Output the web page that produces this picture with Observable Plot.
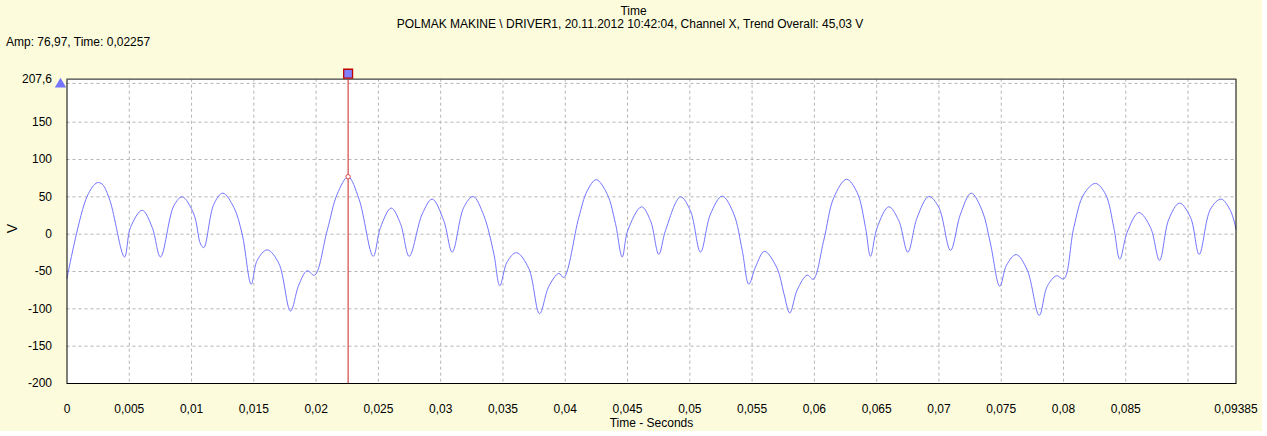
<!DOCTYPE html>
<html>
<head>
<meta charset="utf-8">
<script src="https://cdn.jsdelivr.net/npm/d3@7"></script>
<script src="https://cdn.jsdelivr.net/npm/@observablehq/plot@0.6"></script>
<style>
  html, body { margin: 0; padding: 0; background: #FFFFFF; }
  body { width: 1267px; height: 436px; overflow: hidden; font-family: Arial, "Liberation Sans", sans-serif; font-size: 12px; color: #000; }
  #panel { position: relative; width: 1262px; height: 431px; background: #FCFCDC; }
  #head { position: relative; height: 50px; }
  #head div { position: absolute; line-height: 14px; white-space: nowrap; }
  #chart { width: 1267px; }
  #chart svg { display: block; overflow: visible; }
</style>
</head>
<body>
<div id="panel">
<div id="head">
  <div id="title" style="top:4px;left:0;width:1267px;text-align:center;"></div>
  <div id="subtitle" style="top:17px;left:0;width:1260px;text-align:center;"></div>
  <div id="readout" style="top:35px;left:6px;"></div>
</div>
<div id="chart"></div>
</div>
<script>
// ---- data ----
const times = [0, 0.001622, 0.002425, 0.002826, 0.003436, 0.004616, 0.005098, 0.006037, 0.006840, 0.007506,
  0.008574, 0.009248, 0.010180, 0.010718, 0.010983, 0.011785, 0.012508, 0.013391, 0.014065, 0.014788,
  0.015270, 0.016073, 0.017004, 0.017943, 0.018609, 0.019284, 0.019870, 0.020889, 0.021692, 0.02257,
  0.023443, 0.024582, 0.025169, 0.026028, 0.026774, 0.027473, 0.028517, 0.029319, 0.030250, 0.030925,
  0.031856, 0.032611, 0.033462, 0.034265, 0.034746, 0.035340, 0.036087, 0.037075, 0.037934, 0.038680,
  0.039483, 0.039884, 0.041089, 0.041763, 0.042486, 0.043369, 0.044035, 0.044573, 0.045022, 0.046122,
  0.046845, 0.047511, 0.048049, 0.049253, 0.050056, 0.050859, 0.051662, 0.052601, 0.053532, 0.054207,
  0.054737, 0.055275, 0.055997, 0.057017, 0.057547, 0.058028, 0.058622, 0.059425, 0.059907, 0.060758,
  0.061561, 0.062580, 0.063439, 0.064106, 0.064507, 0.065045, 0.065976, 0.066779, 0.067501, 0.068256,
  0.069187, 0.069990, 0.070930, 0.071733, 0.072592, 0.073475, 0.074141, 0.074888, 0.075426, 0.076204,
  0.077088, 0.078051, 0.078693, 0.079440, 0.080026, 0.080829, 0.081631, 0.082571, 0.083373, 0.084040,
  0.084522, 0.085115, 0.086047, 0.086986, 0.087709, 0.088455, 0.089315, 0.090198, 0.090896, 0.091803,
  0.092662, 0.093409, 0.09385];
const amps = [-59, 51, 69, 67, 45.6, -30.5, 9, 32, 9, -30.5,
  38, 50, 27, -13, -18, 40, 55, 36, 0, -67,
  -35, -21, -39, -103, -68, -49, -55, 5, 53.6, 76.97,
  47, -29.6, 9, 35, 14, -29.6, 27, 47, 18, -24,
  36, 50.4, 25, -26, -69, -37, -24.7, -46, -106.5, -70,
  -52.5, -58, 22.5, 58, 73, 53.6, 14, -30.5, 5, 36.7,
  18, -27, 5, 50, 31, -24, 27, 51, 27, -21.6,
  -67, -44, -23, -46, -79, -105.6, -74.7, -54.8, -60.5, -8,
  49, 73.5, 55.7, 9, -29.6, 9, 36.7, 18, -24, 22.5,
  50.4, 36, -21.6, 27, 55, 31.4, -13, -70, -41.5, -27.3,
  -48, -108.7, -70, -55.7, -60, 9, 53.6, 68, 53.6, 9,
  -33.5, 2.6, 29, 9, -35, 20, 41.6, 22.5, -27, 33.7,
  47, 31.4, 7];

const xTicks = [0, 0.005, 0.01, 0.015, 0.02, 0.025, 0.03, 0.035, 0.04, 0.045, 0.05, 0.055, 0.06, 0.065, 0.07, 0.075, 0.08, 0.085, 0.09385];
const xGrid = [0.005, 0.01, 0.015, 0.02, 0.025, 0.03, 0.035, 0.04, 0.045, 0.05, 0.055, 0.06, 0.065, 0.07, 0.075, 0.08, 0.085, 0.09];
const yTicks = [-200, -150, -100, -50, 0, 50, 100, 150, 207.6];
const yGrid = [-150, -100, -50, 0, 50, 100, 150, 202];
const cursorTime = 0.02257;
const cursorAmp = 76.97;

const titleText = "Time";
const subtitleText = "POLMAK MAKINE \\ DRIVER1, 20.11.2012 10:42:04, Channel X, Trend Overall: 45,03 V";
const readoutText = "Amp: 76,97, Time: 0,02257";
const xLabel = "Time - Seconds";
const yLabel = "V";

// ---- rendering ----
document.getElementById("title").textContent = titleText;
document.getElementById("subtitle").textContent = subtitleText;
document.getElementById("readout").textContent = readoutText;

const fmt = d => String(d).replace(".", ",");
const data = times.map((t, i) => ({t, v: amps[i]}));

const chart = Plot.plot({
  width: 1267,
  height: 386,
  marginTop: 28.7,
  marginBottom: 53,
  marginLeft: 66.5,
  marginRight: 31.5,
  style: {background: "transparent", fontFamily: "Arial, 'Liberation Sans', sans-serif", fontSize: "12px", color: "#000", overflow: "visible"},
  x: {domain: [0, 0.09385]},
  y: {domain: [-200, 207.6]},
  marks: [
    Plot.frame({fill: "white", stroke: null}),
    Plot.ruleX(xGrid, {stroke: "#b4b4b4", strokeDasharray: "3,3"}),
    Plot.ruleY(yGrid, {stroke: "#b4b4b4", strokeDasharray: "3,3"}),
    Plot.line(data, {x: "t", y: "v", stroke: "#7474FF", strokeWidth: 1, curve: "catmull-rom"}),
    Plot.ruleX([cursorTime], {y1: -200, y2: 207.6, stroke: "#D04848", strokeWidth: 1.2}),
    Plot.dot([cursorAmp], {x: () => cursorTime, y: d => d, r: 2.2, stroke: "#D04848", fill: "white", strokeWidth: 1}),
    Plot.frame({stroke: "#000", fill: null}),
    Plot.ruleY([207.6], {stroke: "#808080"}),
    Plot.dot([207.6], {x: () => cursorTime, y: d => d, symbol: "square", r: 5, fill: "#8080FF", stroke: "#C00000", strokeWidth: 1.3, dy: -5.5}),
    Plot.dot([207.6], {x: () => 0, y: d => d, symbol: "triangle", r: 4.2, fill: "#7474FF", stroke: null, dx: -6.5, dy: 5}),
    Plot.axisX(xTicks, {tickSize: 0, tickPadding: 21, tickFormat: fmt, label: null, fontSize: 12}),
    Plot.axisY(yTicks, {tickSize: 0, tickPadding: 15, tickFormat: fmt, label: null, fontSize: 12}),
    Plot.text([xLabel], {frameAnchor: "bottom", dy: 43, fontSize: 12}),
    Plot.text([yLabel], {frameAnchor: "left", dx: -54, rotate: -90, fontSize: 14, dy: 2})
  ]
});
document.getElementById("chart").appendChild(chart);
</script>
</body>
</html>
